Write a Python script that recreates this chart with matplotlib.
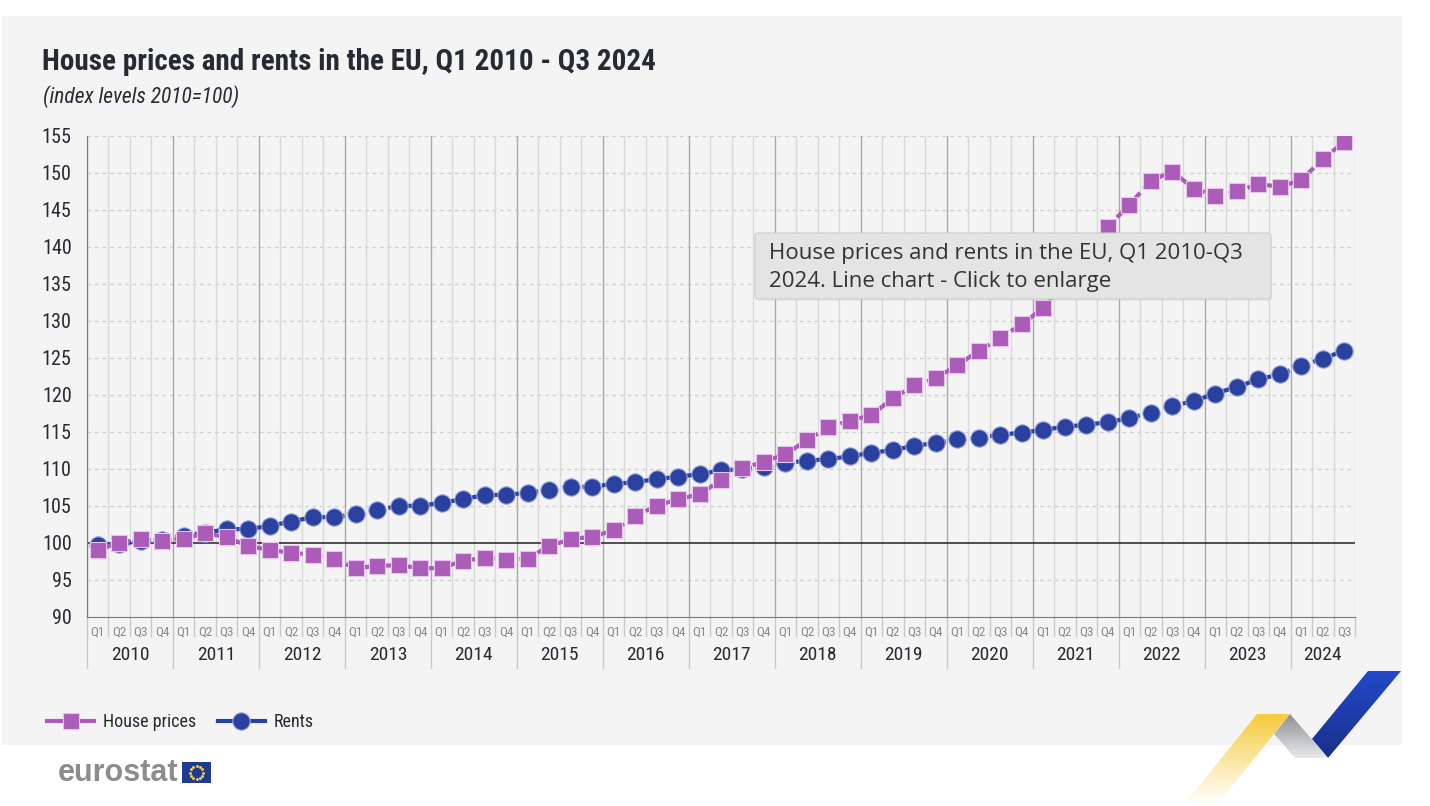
import matplotlib
matplotlib.use("Agg")
import matplotlib.pyplot as plt
from matplotlib.patches import Rectangle, Polygon, FancyBboxPatch
import numpy as np

# data (index 2010=100)
years = [str(y) for y in range(2010, 2025)]
quarters = ["Q1", "Q2", "Q3", "Q4"] * 14 + ["Q1", "Q2", "Q3"]
house_prices = [
    99.05, 100.05, 100.5, 100.3,
    100.6, 101.3, 100.8, 99.6,
    99.05, 98.7, 98.4, 97.8,
    96.6, 96.9, 97.0, 96.6,
    96.6, 97.6, 98.0, 97.7,
    97.9, 99.6, 100.5, 100.85,
    101.7, 103.6, 105.05, 105.9,
    106.6, 108.5, 110.1, 111.0,
    112.0, 113.9, 115.7, 116.5,
    117.3, 119.55, 121.3, 122.25,
    124.05, 125.95, 127.75, 129.55,
    131.8, 135.3, 139.0, 142.75,
    145.7, 148.95, 150.2, 147.9,
    146.9, 147.5, 148.5, 148.15,
    149.05, 151.9, 154.2,
]
rents = [
    99.7, 99.8, 100.3, 100.4,
    101.0, 101.4, 101.85, 101.9,
    102.3, 102.9, 103.5, 103.5,
    103.9, 104.4, 105.05, 105.0,
    105.45, 105.9, 106.5, 106.5,
    106.8, 107.2, 107.6, 107.6,
    108.0, 108.2, 108.65, 108.95,
    109.3, 109.8, 110.0, 110.3,
    110.85, 111.1, 111.35, 111.7,
    112.2, 112.55, 113.15, 113.5,
    114.0, 114.2, 114.65, 114.9,
    115.3, 115.7, 116.0, 116.3,
    116.9, 117.6, 118.5, 119.2,
    120.2, 121.1, 122.1, 122.8,
    123.95, 124.9, 126.0,
]

W, H = 1430, 806
COND = ["Roboto Condensed", "DejaVu Sans"]
HOUSE_C = "#ab5cb8"
RENT_C = "#2b41a0"
BG = "#f4f4f4"
TXT = "#262a33"

fig = plt.figure(figsize=(W / 100, H / 100), dpi=100)
fig.patch.set_facecolor("white")

# background layer in pixel coords
bg = fig.add_axes([0, 0, 1, 1], zorder=0)
bg.set_xlim(0, W)
bg.set_ylim(H, 0)
bg.axis("off")
bg.add_patch(Rectangle((2, 16), 1400, 729, facecolor=BG, edgecolor="none"))

bg.text(42, 62, "House prices and rents in the EU, Q1 2010 - Q3 2024", family=COND,
        fontsize=21, fontweight="bold", color=TXT, va="center", ha="left")
bg.text(43, 97, "(index levels 2010=100)", family=COND, fontsize=15.5, style="italic",
        color=TXT, va="center", ha="left")

# main chart
n = len(house_prices)
x = np.arange(n)
left, right, top, bottom = 87, 1355, 136, 617
ax = fig.add_axes([left / W, 1 - bottom / H, (right - left) / W, (bottom - top) / H], zorder=2)
ax.patch.set_visible(False)
ax.set_xlim(-0.5, n - 0.5)
ax.set_ylim(90, 155)

for v in range(95, 156, 5):
    if v != 100:
        ax.axhline(v, color="#cfcfcf", lw=0.9, ls=(0, (3, 3)), zorder=1)
ax.axhline(100, color="#222222", lw=1.1, zorder=2)

for b in np.arange(-0.5, n, 1.0):
    is_year = (b + 0.5) % 4 == 0
    ax.axvline(b, color="#a8a8a8" if is_year else "#d8d8d8", lw=1.0, zorder=1)

ax.plot(x, house_prices, color=HOUSE_C, lw=3, ls=(0, (3.4, 1.3)), marker="s", ms=12,
        mec="#e6c5ec", mew=0.8, label="House prices", zorder=4)
ax.plot(x, rents, color=RENT_C, lw=3, ls=(0, (3.4, 1.3)), marker="o", ms=12.5,
        mec="#9aa5dc", mew=0.8, label="Rents", zorder=3)

ax.set_yticks(range(90, 156, 5))
ax.tick_params(axis="y", length=0, pad=11, labelsize=14.5, labelcolor=TXT)
for t in ax.get_yticklabels():
    t.set_family(COND)
ax.set_xticks(x)
ax.set_xticklabels(quarters)
ax.tick_params(axis="x", length=0, pad=6, labelsize=9.5, labelcolor="#8a8a8a")
for t in ax.get_xticklabels():
    t.set_family(COND)

for s in ["top", "right"]:
    ax.spines[s].set_visible(False)
ax.spines["left"].set_color("#777777")
ax.spines["bottom"].set_color("#777777")

# quarter / year separators under the axis
tr = ax.get_xaxis_transform()
for b in np.arange(-0.5, n, 1.0):
    is_year = (b + 0.5) % 4 == 0 or b == n - 0.5
    y0 = -0.105 if is_year and b != n - 0.5 else -0.04
    ax.plot([b, b], [0, y0], transform=tr, color="#c8c8c8", lw=1.0, clip_on=False)
for i, yr in enumerate(years):
    xs = x[i * 4:(i + 1) * 4]
    ax.text(xs.mean(), -0.08, yr, transform=tr, ha="center", va="center",
            family=COND, fontsize=14, color=TXT)

leg = ax.legend(loc="center left", bbox_to_anchor=(38 / W, 1 - 722 / H),
                bbox_transform=fig.transFigure, ncol=2, frameon=False, borderpad=0,
                handlelength=2.6, columnspacing=1.2, handletextpad=0.5,
                prop={"family": COND, "size": 13})
for t in leg.get_texts():
    t.set_color(TXT)
for ln in leg.get_lines():
    ln.set_linestyle("-")

# foreground layer: tooltip, logo and ribbon
fg = fig.add_axes([0, 0, 1, 1], zorder=10)
fg.set_xlim(0, W)
fg.set_ylim(H, 0)
fg.axis("off")
fg.patch.set_visible(False)

fg.add_patch(FancyBboxPatch((757, 236), 515, 65, boxstyle="round,pad=0,rounding_size=3",
                            facecolor="#cccccc", edgecolor="none", alpha=0.35))
fg.add_patch(FancyBboxPatch((755, 233), 516, 66, boxstyle="round,pad=0,rounding_size=3",
                            facecolor="#e4e4e4", edgecolor="#cdcdcd", lw=0.8))
fg.text(769, 253, "House prices and rents in the EU, Q1 2010-Q3", family=["Open Sans", "DejaVu Sans"],
        fontsize=16, color="#333333", va="center", ha="left")
fg.text(769, 281, "2024. Line chart - Click to enlarge", family=["Open Sans", "DejaVu Sans"],
        fontsize=16, color="#333333", va="center", ha="left")

fg.text(58, 773, "eurostat", family="Liberation Sans", fontweight="bold", fontsize=22,
        color="#8a8c8e", va="center", ha="left")
fg.add_patch(Rectangle((182, 762), 29, 21, facecolor="#1f3c95", edgecolor="none"))
ang = np.linspace(0, 2 * np.pi, 13)[:-1]
fg.scatter(196.5 + 6.5 * np.cos(ang), 772.5 + 6.5 * np.sin(ang), s=1.2, color="#f4d03f", zorder=11)

# ribbon in the bottom right corner
def grad_poly(pts, c_top, c_bot):
    poly = Polygon(pts, closed=True, facecolor="none", edgecolor="none")
    fg.add_patch(poly)
    ys = [p[1] for p in pts]
    xs = [p[0] for p in pts]
    c0 = np.array(matplotlib.colors.to_rgba(c_top))
    c1 = np.array(matplotlib.colors.to_rgba(c_bot))
    t = np.linspace(0, 1, 64)[:, None]
    img = (c0 * (1 - t) + c1 * t)[:, None, :]
    im = fg.imshow(img, extent=(min(xs), max(xs), max(ys), min(ys)), aspect="auto",
                   interpolation="bilinear", zorder=12)
    im.set_clip_path(poly)

grad_poly([(1368, 671), (1401, 671), (1328, 758), (1312, 739)], "#2349c8", "#1a2f8c")
grad_poly([(1290, 714), (1328, 758), (1295, 758), (1274, 734)], "#8d8f94", "#e8e9ec")
grad_poly([(1257, 714), (1290, 714), (1216, 806), (1183, 806)], "#f7cb3c", (1, 1, 1, 0.9))

fig.savefig("out.png", dpi=100, facecolor="white")
